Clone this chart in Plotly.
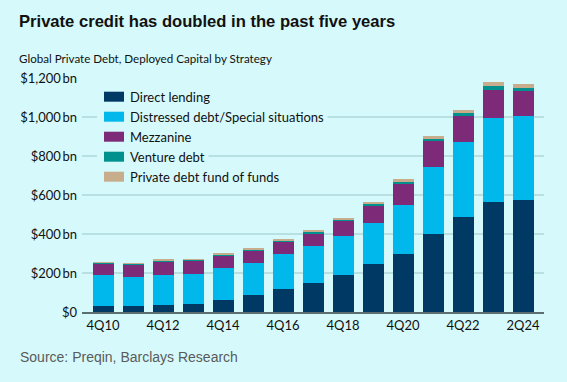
import plotly.graph_objects as go

# ---- data (USD bn) ----
categories = ["4Q10", "4Q11", "4Q12", "4Q13", "4Q14", "4Q15", "4Q16", "4Q17",
              "4Q18", "4Q19", "4Q20", "4Q21", "4Q22", "4Q23", "2Q24"]
direct_lending = [33, 33, 38, 41, 64, 89, 116, 151, 190, 245, 300, 400, 486, 564, 573]
distressed = [155, 147, 150, 154, 162, 160, 180, 186, 202, 214, 251, 342, 388, 431, 432]
mezzanine = [62, 65, 73, 67, 65, 68, 65, 67, 75, 85, 106, 135, 133, 144, 128]
venture_debt = [4, 4, 5, 5, 5, 4, 5, 7, 5, 10, 14, 10, 14, 19, 14]
fund_of_funds = [2, 2, 3, 3, 2, 4, 5, 5, 8, 9, 9, 14, 15, 19, 21]

series_names = ["Direct lending", "Distressed debt/Special situations", "Mezzanine",
                "Venture debt", "Private debt fund of funds"]
series_values = [direct_lending, distressed, mezzanine, venture_debt, fund_of_funds]
series_colors = ["#003a64", "#00b8ec", "#7d2a78", "#00918e", "#c8ad8c"]

x_tick_labels = ["4Q10", "4Q12", "4Q14", "4Q16", "4Q18", "4Q20", "4Q22", "2Q24"]
y_tick_values = [0, 200, 400, 600, 800, 1000, 1200]
y_tick_labels = ["$0", "$200\u2009bn", "$400\u2009bn", "$600\u2009bn", "$800\u2009bn",
                 "$1,000\u2009bn", "$1,200\u2009bn"]

BG = "#d6fafb"
W, H = 567, 382
ML, MR, MT, MB = 82, 23, 78, 70
PW, PH = W - ML - MR, H - MT - MB


def px(x):
    return (x - ML) / PW


def py(y):
    return (H - MB - y) / PH


fig = go.Figure()
for name, vals, col in zip(series_names, series_values, series_colors):
    fig.add_trace(go.Bar(x=categories, y=vals, name=name,
                         marker=dict(color=col, line=dict(width=0)),
                         showlegend=False))

shapes = []
annotations = []
# custom legend
for i, (name, col) in enumerate(zip(series_names, series_colors)):
    cy = 96.7 + 20 * i
    shapes.append(dict(type="rect", xref="paper", yref="paper", layer="above",
                       x0=px(97), x1=px(128), y0=py(cy + 8), y1=py(cy - 8),
                       fillcolor=BG, line=dict(width=0)))
    shapes.append(dict(type="rect", xref="paper", yref="paper", layer="above",
                       x0=px(104), x1=px(124), y0=py(cy + 5), y1=py(cy - 5),
                       fillcolor=col, line=dict(width=0)))
    annotations.append(dict(text=name, xref="paper", yref="paper", x=px(126), y=py(cy),
                            xanchor="left", yanchor="middle", showarrow=False,
                            bgcolor=BG, borderpad=3,
                            font=dict(family="Lato", size=13, color="#111111")))

annotations.append(dict(text="<b>Private credit has doubled in the past five years</b>",
                        xref="paper", yref="paper", x=px(17), y=py(22),
                        xanchor="left", yanchor="middle", showarrow=False,
                        font=dict(family="Liberation Sans", size=16.6, color="#111111")))
annotations.append(dict(text="Global Private Debt, Deployed Capital by Strategy",
                        xref="paper", yref="paper", x=px(17), y=py(58),
                        xanchor="left", yanchor="middle", showarrow=False,
                        font=dict(family="Lato", size=11.6, color="#111111")))
annotations.append(dict(text="Source: Preqin, Barclays Research",
                        xref="paper", yref="paper", x=px(18), y=py(357),
                        xanchor="left", yanchor="middle", showarrow=False,
                        font=dict(family="Liberation Sans", size=14, color="#5a5a5a")))

fig.update_layout(
    width=W, height=H,
    margin=dict(l=ML, r=MR, t=MT, b=MB),
    paper_bgcolor=BG, plot_bgcolor=BG,
    barmode="stack", bargap=0.3,
    showlegend=False,
    shapes=shapes, annotations=annotations,
    xaxis=dict(type="category", range=[-0.7, 14.7],
               tickmode="array", tickvals=x_tick_labels, ticktext=x_tick_labels,
               showgrid=False, showline=True, linecolor="#5d6e70", linewidth=2,
               ticks="", tickfont=dict(family="Lato", size=13, color="#111111")),
    yaxis=dict(range=[0, 1200], tickmode="array", tickvals=y_tick_values,
               ticktext=y_tick_labels, showgrid=True, gridcolor="#b8dfe2", gridwidth=1.5,
               zeroline=False, ticks="", ticklabelstandoff=4,
               tickfont=dict(family="Lato", size=13, color="#111111")),
)

fig.write_html("out.html",
               config={"displayModeBar": False},
               post_script="document.body.style.margin='0';document.body.style.overflow='hidden';")
